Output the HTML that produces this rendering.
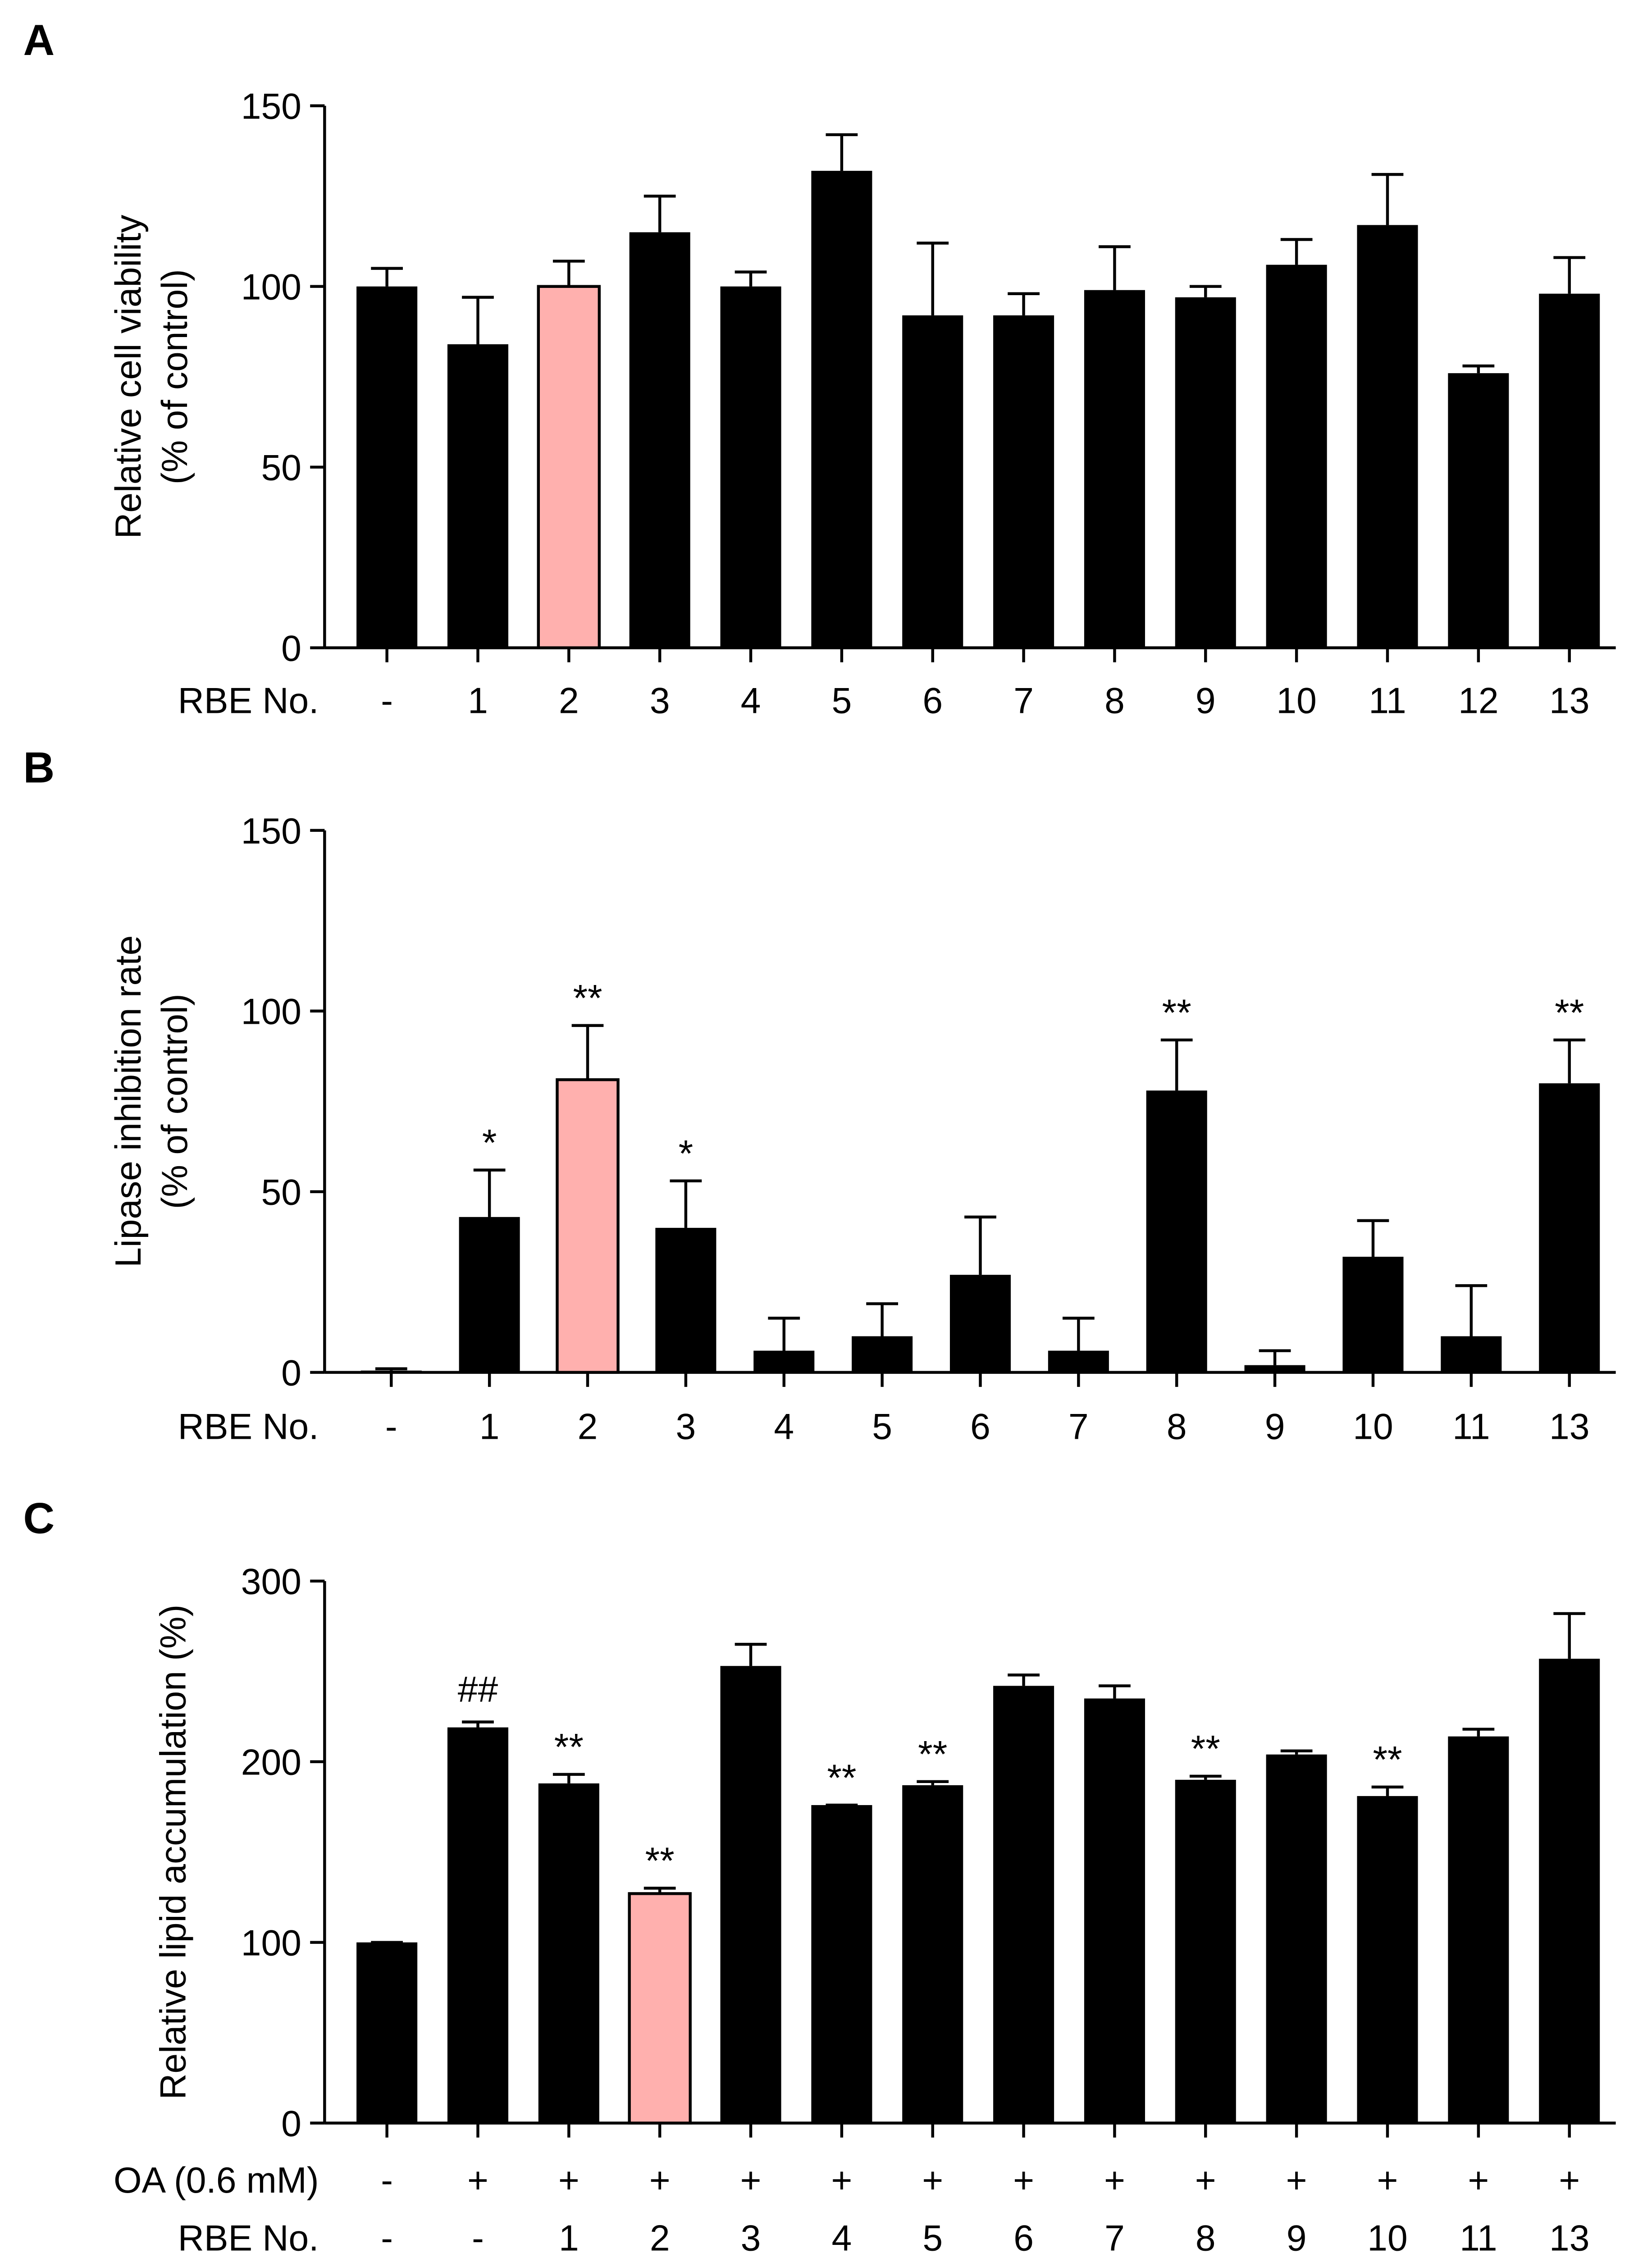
<!DOCTYPE html>
<html><head><meta charset="utf-8"><style>
html,body{margin:0;padding:0;background:#fff;overflow:hidden;width:3666px;height:5030px;}
svg{display:block;font-family:"Liberation Sans",Arial,sans-serif;}
</style></head><body>
<svg id="fig" width="3666" height="5030" viewBox="0 0 1140 1564" preserveAspectRatio="none" xmlns="http://www.w3.org/2000/svg">
<g font-weight="bold" font-size="30">
<text x="16" y="38">A</text>
<text x="16" y="540">B</text>
<text x="16" y="1058">C</text>
</g>
<g id="chartA"></g>
<g id="chartB"></g>
<g id="chartC"></g>
</svg>
<script>
const catsA = ["-","1","2","3","4","5","6","7","8","9","10","11","12","13"];
const valsA = [100,84,100,115,100,132,92,92,99,97,106,117,76,98];
const errA  = [105,97,107,125,104,142,112,98,111,100,113,131,78,108];
const ticksA = [0,50,100,150];

const catsB = ["-","1","2","3","4","5","6","7","8","9","10","11","13"];
const valsB = [0.5,43,81,40,6,10,27,6,78,2,32,10,80];
const errB  = [1,56,96,53,15,19,43,15,92,6,42,24,92];
const sigB  = ["","*","**","*","","","","","**","","","","**"];
const ticksB = [0,50,100,150];

const oaC   = ["-","+","+","+","+","+","+","+","+","+","+","+","+","+"];
const catsC = ["-","-","1","2","3","4","5","6","7","8","9","10","11","13"];
const valsC = [100,219,188,127,253,176,187,242,235,190,204,181,214,257];
const errC  = [100,222,193,130,265,176,189,248,242,192,206,186,218,282];
const sigC  = ["","##","**","**","","**","**","","","**","","**","",""];
const ticksC = [0,100,200,300];

const NS="http://www.w3.org/2000/svg";
function mk(parent,tag,attrs,text){const e=document.createElementNS(NS,tag);for(const k in attrs)e.setAttribute(k,attrs[k]);if(text!==undefined)e.textContent=text;parent.appendChild(e);return e;}

function drawChart(g,o){
  const x0=224,x1=1115;
  const yScale=v=>o.yBase-(v/o.yMax)*374;
  const n=o.vals.length;
  const step=(o.last-o.first)/(n-1);
  const xScale=i=>o.first+i*step;
  const ya=mk(g,"line",{x1:x0,x2:x0,y1:yScale(o.yMax),y2:o.yBase,stroke:"#000","stroke-width":2});
  
  
  o.ticks.forEach(t=>{
    const tl=mk(g,"line",{x1:x0-10,x2:x0,y1:yScale(t),y2:yScale(t),stroke:"#000","stroke-width":2});
    
    
    const tt=mk(g,"text",{x:x0-16,y:yScale(t)+9,"text-anchor":"end","font-size":25},String(t));
    
    
  });
  const xa=mk(g,"line",{x1:x0,x2:x1,y1:o.yBase,y2:o.yBase,stroke:"#000","stroke-width":2});
  
  
  for(let i=0;i<n;i++){
    const cx=xScale(i),w=42;
    const top=yScale(o.errs[i]);
    const el=mk(g,"line",{x1:cx,x2:cx,y1:top,y2:yScale(o.vals[i]),stroke:"#000","stroke-width":2});
    
    
    const cap=mk(g,"line",{x1:cx-11,x2:cx+11,y1:top,y2:top,stroke:"#000","stroke-width":2});
    
    
    const pink=i===o.pink;
    const r=mk(g,"rect",{x:cx-w/2,y:yScale(o.vals[i]),width:w,height:o.yBase-yScale(o.vals[i]),fill:pink?"#ffb0ae":"#000",stroke:"#000","stroke-width":pink?2:0});
    
    
    const xt=mk(g,"line",{x1:cx,x2:cx,y1:o.yBase,y2:o.yBase+10,stroke:"#000","stroke-width":2});
    
    
    if(o.sig&&o.sig[i]){
      const s=mk(g,"text",{x:cx,y:top-(o.sig[i]==="##"?14:10),"text-anchor":"middle","font-size":o.sig[i]==="##"?25:26},o.sig[i]);
      
      
    }
    o.rows.forEach(row=>{
      const t=mk(g,"text",{x:cx,y:row.y,"text-anchor":"middle","font-size":25},row.labels[i]);
      
      
    });
  }
  o.rows.forEach(row=>{
    const t=mk(g,"text",{x:220,y:row.y,"text-anchor":"end","font-size":25},row.title);
    
    
  });
  o.ytitle.forEach((s,k)=>{
    const cx=o.ytitle.length===1?128:(97+k*32);
    const t=mk(g,"text",{x:cx,y:o.ymid,"text-anchor":"middle","font-size":25,transform:`rotate(-90 ${cx} ${o.ymid})`},s);
    
    
  });
}
drawChart(document.getElementById('chartA'),{yBase:447,yMax:150,vals:valsA,errs:errA,ticks:ticksA,pink:2,first:267,last:1083,
  rows:[{y:492,title:"RBE No.",labels:catsA}],ytitle:["Relative cell viability","(% of control)"],ymid:260});
drawChart(document.getElementById('chartB'),{yBase:947,yMax:150,vals:valsB,errs:errB,ticks:ticksB,pink:2,sig:sigB,first:270,last:1083,
  rows:[{y:993,title:"RBE No.",labels:catsB}],ytitle:["Lipase inhibition rate","(% of control)"],ymid:760});
drawChart(document.getElementById('chartC'),{yBase:1465,yMax:300,vals:valsC,errs:errC,ticks:ticksC,pink:3,sig:sigC,first:267,last:1083,
  rows:[{y:1513,title:"OA (0.6 mM)",labels:oaC},{y:1553,title:"RBE No.",labels:catsC}],ytitle:["Relative lipid accumulation (%)"],ymid:1278});
</script>
</body></html>
